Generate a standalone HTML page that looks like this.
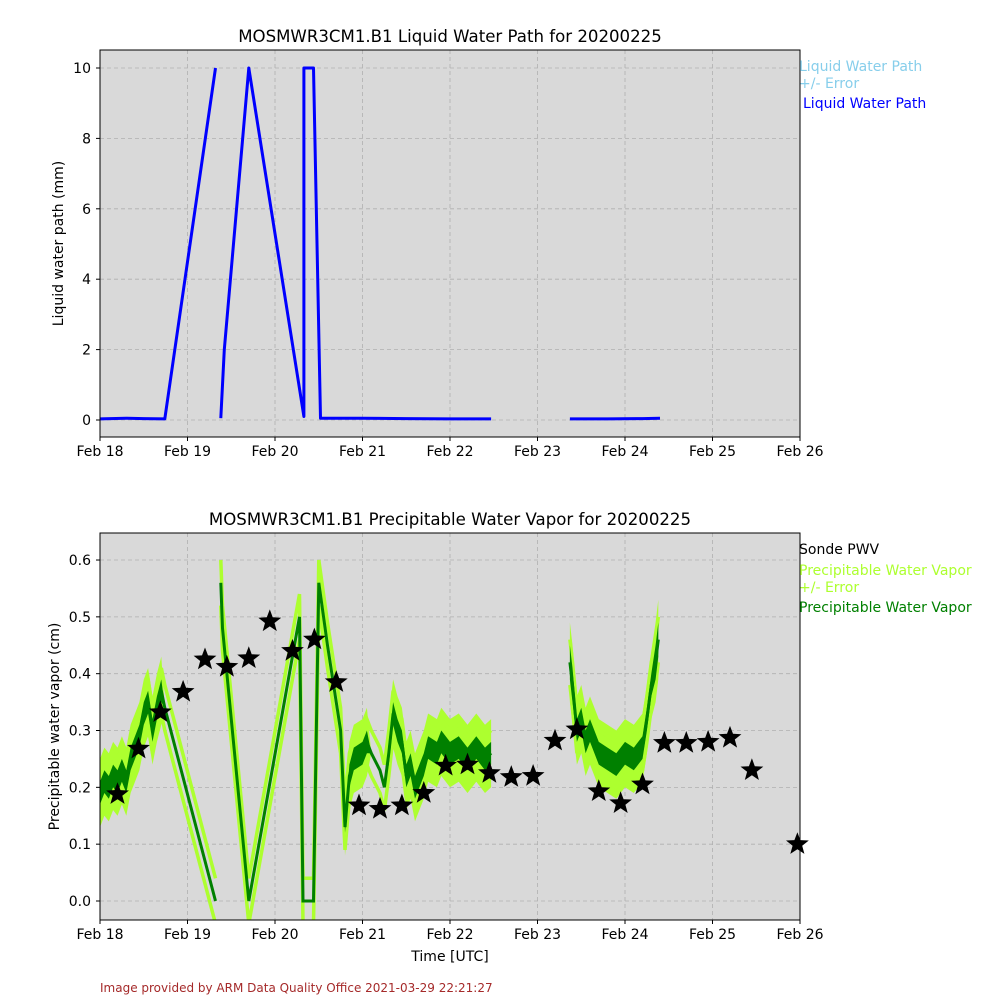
<!DOCTYPE html>
<html><head><meta charset="utf-8"><style>
body{margin:0;background:#fff;font-family:"DejaVu Sans","Liberation Sans",sans-serif}
svg text{font-family:"DejaVu Sans","Liberation Sans",sans-serif}
</style></head><body>
<svg id="s" width="1000" height="1000" xmlns="http://www.w3.org/2000/svg"></svg>
<script>
const dayLabels=["Feb 18","Feb 19","Feb 20","Feb 21","Feb 22","Feb 23","Feb 24","Feb 25","Feb 26"];
const lwpTicks=[0,2,4,6,8,10];
const lwpDays=[0,0.3,0.5,0.74,1.32,null,1.38,1.42,1.70,2.33,2.33,2.44,2.52,3.0,3.5,4.0,4.47,null,5.37,5.8,6.2,6.4];
const lwpVals=[0.03,0.05,0.04,0.03,10,null,0.05,2,10,0.1,10,10,0.05,0.05,0.04,0.03,0.03,null,0.03,0.03,0.04,0.05];
const pwvTicks=[0,0.1,0.2,0.3,0.4,0.5,0.6];
const pwvDays=[0,0.05,0.1,0.15,0.2,0.25,0.3,0.35,0.4,0.45,0.5,0.55,0.6,0.65,0.7,0.74,1.32,null,1.38,1.4,1.7,2.28,2.32,2.44,2.5,2.6,2.75,2.8,2.85,2.9,3.0,3.05,3.1,3.2,3.25,3.3,3.35,3.4,3.45,3.5,3.55,3.6,3.7,3.75,3.85,3.9,4.0,4.1,4.2,4.3,4.4,4.47,null,5.37,5.4,5.45,5.5,5.55,5.6,5.7,5.8,5.9,6.0,6.1,6.2,6.25,6.3,6.35,6.38];
const pwvVals=[0.19,0.21,0.2,0.22,0.21,0.23,0.21,0.25,0.27,0.29,0.33,0.35,0.3,0.34,0.37,0.34,0.0,null,0.56,0.48,0.0,0.5,0.0,0.0,0.56,0.45,0.3,0.13,0.22,0.25,0.26,0.28,0.26,0.23,0.2,0.26,0.33,0.3,0.28,0.22,0.24,0.2,0.24,0.27,0.26,0.28,0.26,0.27,0.25,0.27,0.25,0.26,null,0.42,0.38,0.3,0.32,0.28,0.3,0.26,0.25,0.24,0.26,0.25,0.27,0.32,0.38,0.42,0.46];
const pwvSpread=[0.02,0.02,0.02,0.02,0.02,0.02,0.02,0.02,0.02,0.02,0.02,0.02,0.02,0.02,0.02,0.0,0.0,null,0.0,0.0,0.0,0.0,0.0,0.0,0.0,0.0,0.0,0.01,0.02,0.02,0.02,0.02,0.0,0.0,0.0,0.02,0.02,0.02,0.02,0.02,0.02,0.02,0.02,0.02,0.02,0.02,0.02,0.02,0.02,0.02,0.02,0.02,null,0.03,0.03,0.02,0.02,0.02,0.02,0.02,0.02,0.02,0.02,0.02,0.02,0.02,0.02,0.03,0.03];
const pwvErr=0.04;
const sondeDays=[0.2,0.44,0.69,0.95,1.2,1.45,1.7,1.94,2.2,2.45,2.7,2.96,3.2,3.45,3.7,3.95,4.2,4.45,4.7,4.95,5.2,5.45,5.7,5.95,6.2,6.45,6.7,6.95,7.2,7.45,7.97];
const sondeVals=[0.188,0.268,0.332,0.368,0.425,0.412,0.427,0.492,0.44,0.46,0.385,0.168,0.162,0.168,0.19,0.238,0.24,0.225,0.218,0.22,0.282,0.302,0.193,0.172,0.205,0.278,0.278,0.28,0.287,0.23,0.1];

const S=document.getElementById('s');const NS="http://www.w3.org/2000/svg";
function el(t,a,p){const e=document.createElementNS(NS,t);for(const k in a)e.setAttribute(k,a[k]);(p||S).appendChild(e);return e;}
const X=d=>100+d*87.5;
const Y1=v=>420-v*35.2;
const Y2=v=>901-v*568.3;
function pathFrom(days,vals,Y,off){let d="",pen=false;for(let i=0;i<days.length;i++){if(days[i]===null){pen=false;continue;}d+=(pen?"L":"M")+X(days[i]).toFixed(1)+","+Y(vals[i]+(off||0)).toFixed(1);pen=true;}return d;}
function bandPath(days,vals,spr,extra,Y){let out="";let seg=[];
  const ex=i=>spr[i]>0?spr[i]+extra:0;
  const flush=()=>{if(seg.length<2){seg=[];return;}let d="";seg.forEach((i,k)=>{d+=(k?"L":"M")+X(days[i]).toFixed(1)+","+Y(vals[i]+ex(i)).toFixed(1);});
    for(let k=seg.length-1;k>=0;k--){const i=seg[k];d+="L"+X(days[i]).toFixed(1)+","+Y(vals[i]-ex(i)).toFixed(1);}out+=d+"Z";seg=[];};
  for(let i=0;i<days.length;i++){if(days[i]===null){flush();continue;}seg.push(i);}flush();return out;}
function axes(top,bot,ticks,Y,ylabel,title,tname){
  const g=el('g',{});
  
  
  el('rect',{x:100,y:top,width:700,height:bot-top,fill:'#d9d9d9'},g);
  dayLabels.forEach((l,i)=>{const x=X(i);
    el('line',{x1:x,x2:x,y1:top,y2:bot,stroke:'#b0b0b0','stroke-dasharray':'4,3','stroke-width':0.8},g);
    el('line',{x1:x,x2:x,y1:bot,y2:bot+4,stroke:'#000'},g);
    const t=el('text',{x:x,y:bot+19,'font-size':14,'text-anchor':'middle'},g);t.textContent=l;
    
    });
  ticks.forEach(v=>{const y=Y(v);
    el('line',{x1:100,x2:800,y1:y,y2:y,stroke:'#b0b0b0','stroke-dasharray':'4,3','stroke-width':0.8},g);
    el('line',{x1:96,x2:100,y1:y,y2:y,stroke:'#000'},g);
    const t=el('text',{x:91,y:y+5,'font-size':14,'text-anchor':'end'},g);t.textContent=(ticks[1]<1?v.toFixed(1):v);
    
    });
  const yl=el('text',{x:0,y:0,'font-size':14,'text-anchor':'middle',transform:`translate(${top<100?63:59},${(top+bot)/2}) rotate(-90)`},g);yl.textContent=ylabel;
  
  
  const tt=el('text',{x:450,y:top-8,'font-size':16.6,'text-anchor':'middle'},g);tt.textContent=title;
  
  
  return g;
}
const g1=axes(50,437,lwpTicks,Y1,"Liquid water path (mm)","MOSMWR3CM1.B1 Liquid Water Path for 20200225","lwp-chart");
const lw=el('path',{d:pathFrom(lwpDays,lwpVals,Y1),fill:'none',stroke:'#0000ff','stroke-width':3,'stroke-linejoin':'round'},g1);


el('rect',{x:100,y:50,width:700,height:387,fill:'none',stroke:'#000'},g1);

const g2=axes(533,920,pwvTicks,Y2,"Precipitable water vapor (cm)","MOSMWR3CM1.B1 Precipitable Water Vapor for 20200225","pwv-chart");
const clip=el('clipPath',{id:'c2'},g2);el('rect',{x:100,y:533,width:700,height:387},clip);
const pg=el('g',{'clip-path':'url(#c2)'},g2);
const band=el('path',{d:bandPath(pwvDays,pwvVals,pwvSpread,pwvErr,Y2),fill:'#adff2f'},pg);


const up=el('path',{d:pathFrom(pwvDays,pwvVals,Y2,pwvErr),fill:'none',stroke:'#adff2f','stroke-width':3.5},pg);


const lo=el('path',{d:pathFrom(pwvDays,pwvVals,Y2,-pwvErr),fill:'none',stroke:'#adff2f','stroke-width':3.5},pg);


const gb=el('path',{d:bandPath(pwvDays,pwvVals,pwvSpread,0,Y2),fill:'#008000'},pg);


const pl=el('path',{d:pathFrom(pwvDays,pwvVals,Y2),fill:'none',stroke:'#008000','stroke-width':3},pg);


function star(cx,cy,R){const r=R*0.42;let d="";for(let i=0;i<10;i++){const a=-Math.PI/2+i*Math.PI/5;const rr=i%2?r:R;d+=(i?"L":"M")+(cx+rr*Math.cos(a)).toFixed(1)+","+(cy+rr*Math.sin(a)).toFixed(1);}return d+"Z";}
sondeDays.forEach((d,i)=>{const p=el('path',{d:star(X(d),Y2(sondeVals[i]),12),fill:'#000'},g2);
  
  });
el('rect',{x:100,y:533,width:700,height:387,fill:'none',stroke:'#000'},g2);
const xt=el('text',{x:450,y:961,'font-size':14,'text-anchor':'middle'});xt.textContent="Time [UTC]";


const legends=[[799,71,'#87ceeb','Liquid Water Path'],[799,88,'#87ceeb','+/- Error'],[803,108,'#0000ff','Liquid Water Path'],[799,554,'#000','Sonde PWV'],[799,575,'#adff2f','Precipitable Water Vapor'],[799,592,'#adff2f','+/- Error'],[799,612,'#008000','Precipitable Water Vapor']];
legends.forEach(l=>{const t=el('text',{x:l[0],y:l[1],'font-size':14,fill:l[2]});t.textContent=l[3];
  
  });
const ft=el('text',{x:100,y:992,'font-size':12,fill:'#a52a2a'});ft.textContent="Image provided by ARM Data Quality Office 2021-03-29 22:21:27";


</script>
</body></html>
